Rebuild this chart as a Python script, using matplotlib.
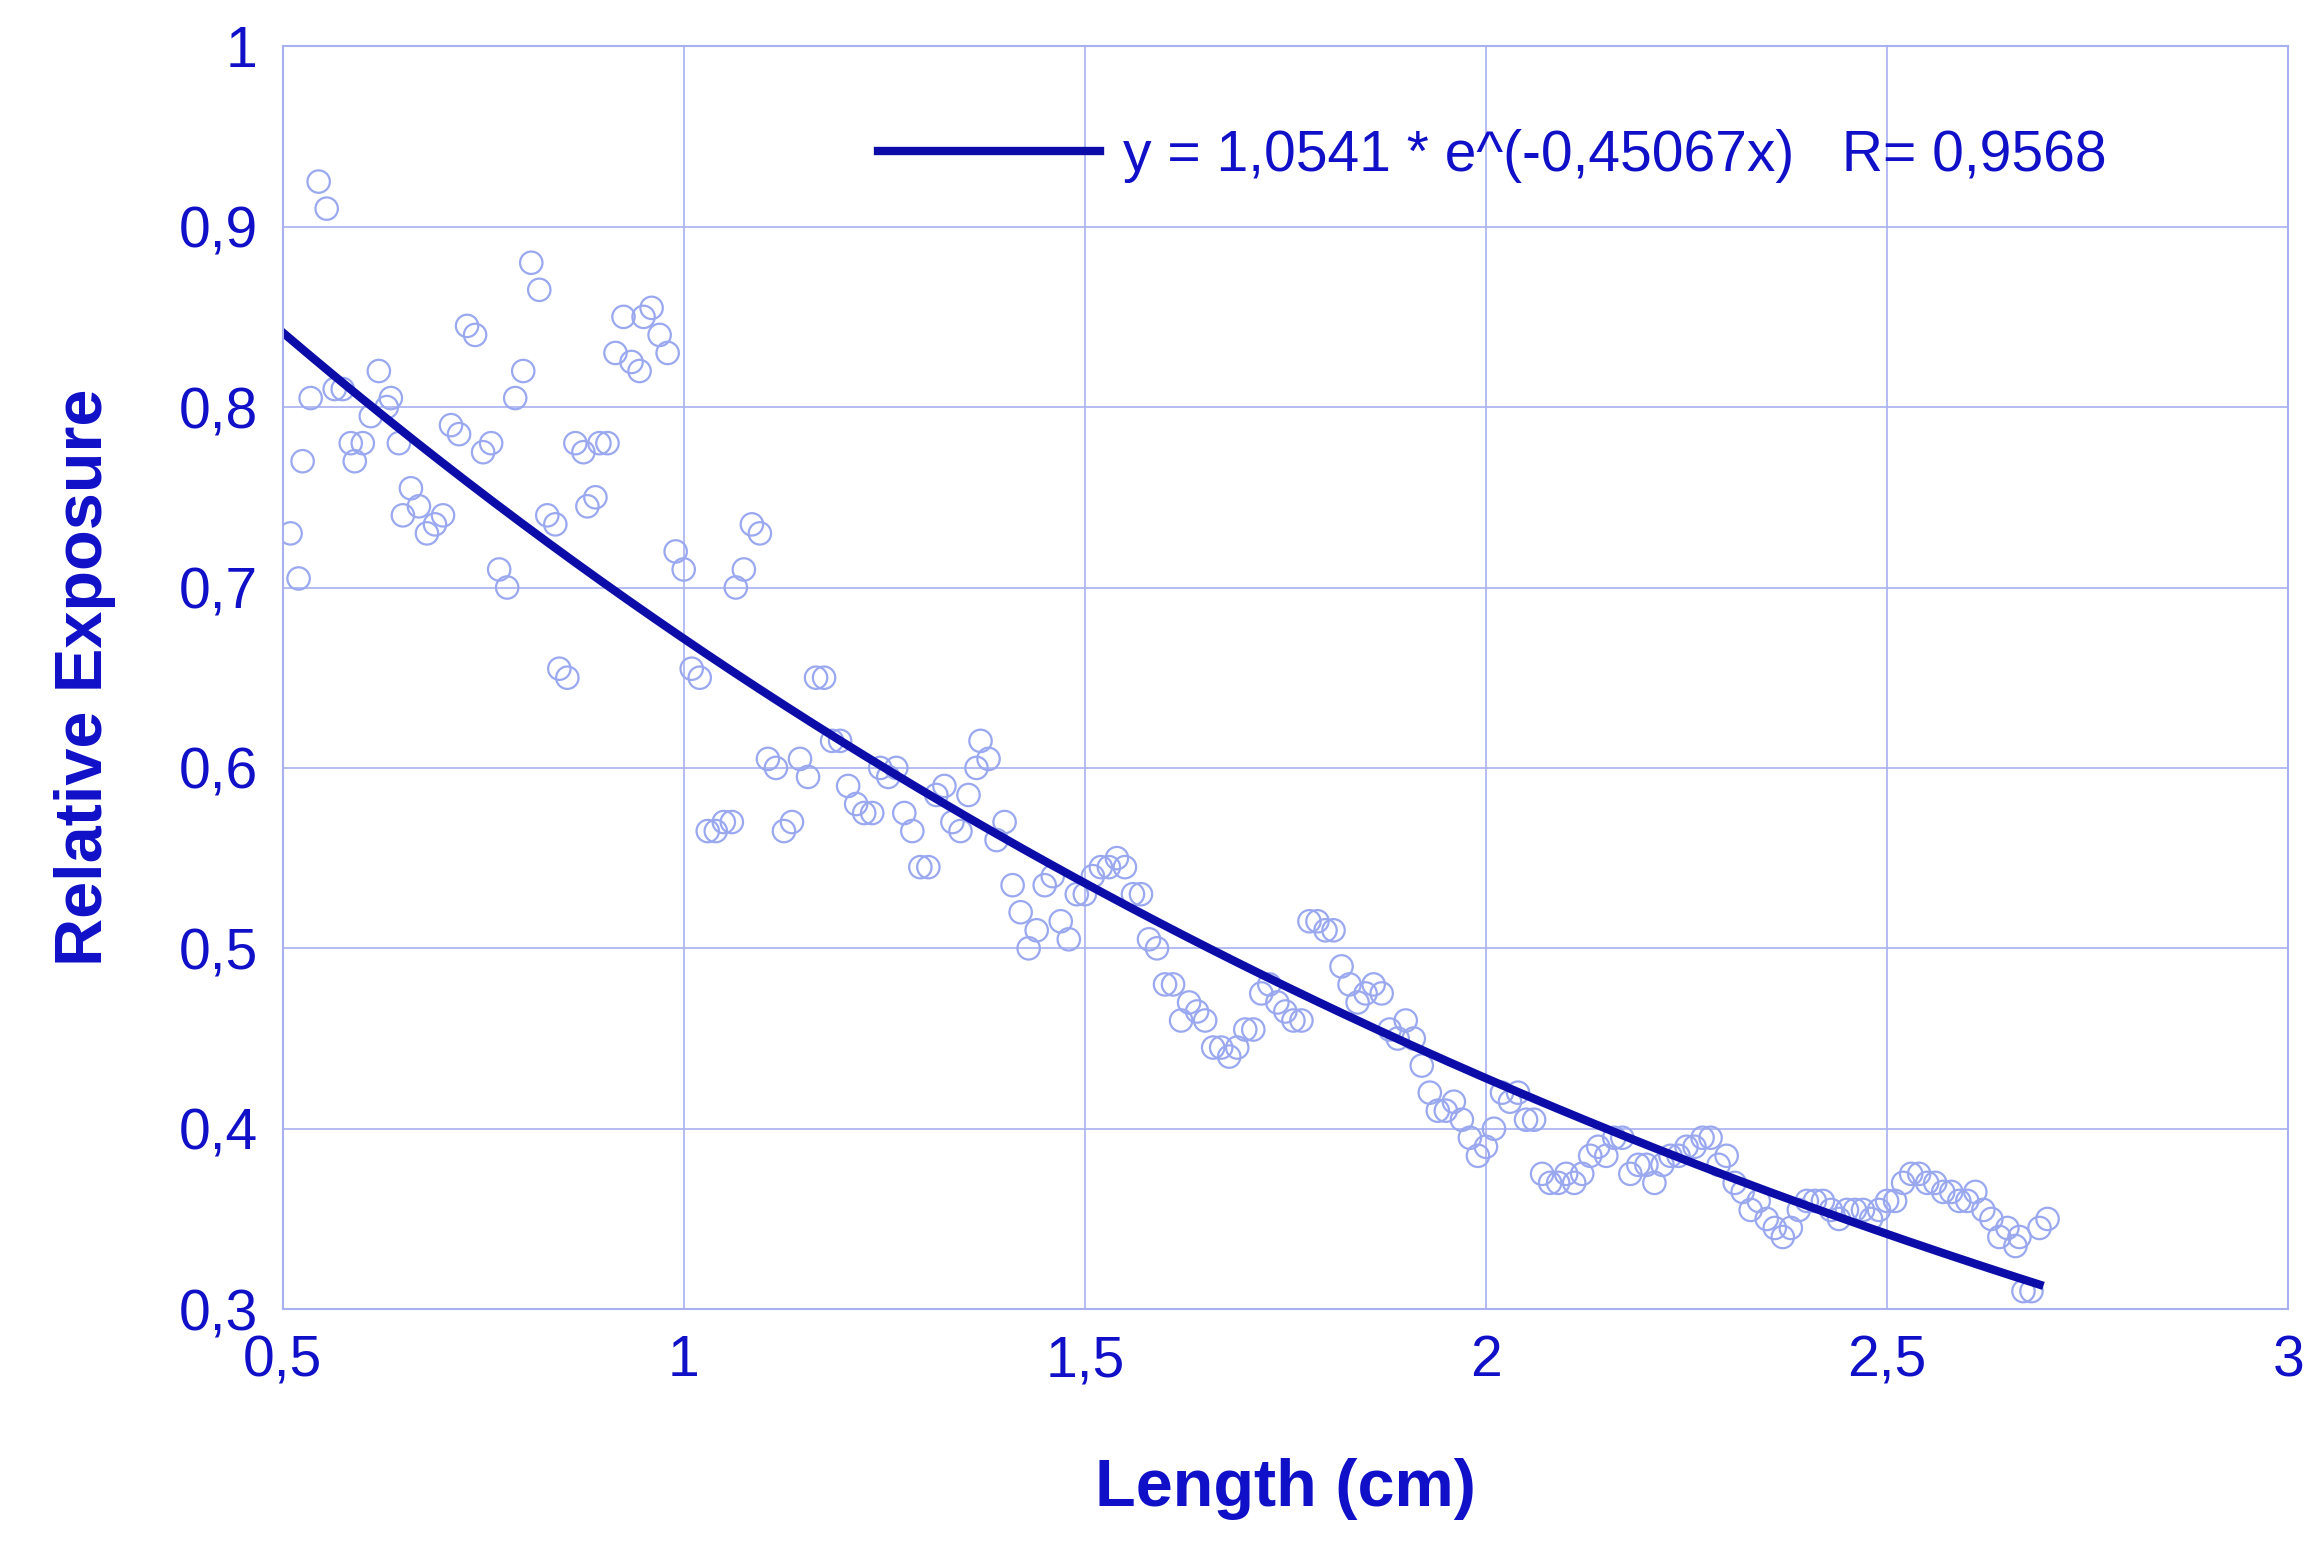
import numpy as np
import matplotlib.pyplot as plt
from matplotlib.ticker import FuncFormatter

length = [0.51,0.52,0.525,0.535,0.545,0.555,0.565,0.575,0.585,0.59,0.60,0.61,0.62,0.63,0.635,0.645,0.65,0.66,0.67,0.68,
          0.69,0.70,0.71,0.72,0.73,0.74,0.75,0.76,0.77,0.78,0.79,0.80,0.81,0.82,0.83,0.84,0.845,0.855,0.865,0.875,
          0.88,0.89,0.895,0.905,0.915,0.925,0.935,0.945,0.95,0.96,0.97,0.98,0.99,1.00,1.01,1.02,1.03,1.04,1.05,1.06,
          1.065,1.075,1.085,1.095,1.105,1.115,1.125,1.135,1.145,1.155,1.165,1.175,1.185,1.195,1.205,1.215,1.225,1.235,1.245,1.255,
          1.265,1.275,1.285,1.295,1.305,1.315,1.325,1.335,1.345,1.355,1.365,1.37,1.38,1.39,1.40,1.41,1.42,1.43,1.44,1.45,
          1.46,1.47,1.48,1.49,1.50,1.51,1.52,1.53,1.54,1.55,1.56,1.57,1.58,1.59,1.60,1.61,1.62,1.63,1.64,1.65,
          1.66,1.67,1.68,1.69,1.70,1.71,1.72,1.73,1.74,1.75,1.76,1.77,1.78,1.79,1.80,1.81,1.82,1.83,1.84,1.85,
          1.86,1.87,1.88,1.89,1.90,1.91,1.92,1.93,1.94,1.95,1.96,1.97,1.98,1.99,2.00,2.01,2.02,2.03,2.04,2.05,
          2.06,2.07,2.08,2.09,2.10,2.11,2.12,2.13,2.14,2.15,2.16,2.17,2.18,2.19,2.20,2.21,2.22,2.23,2.24,2.25,
          2.26,2.27,2.28,2.29,2.30,2.31,2.32,2.33,2.34,2.35,2.36,2.37,2.38,2.39,2.40,2.41,2.42,2.43,2.44,2.45,
          2.46,2.47,2.48,2.49,2.50,2.51,2.52,2.53,2.54,2.55,2.56,2.57,2.58,2.59,2.60,2.61,2.62,2.63,2.64,2.65,
          2.66,2.665,2.67,2.68,2.69,2.70]
exposure = [0.73,0.705,0.77,0.805,0.925,0.91,0.81,0.81,0.78,0.77,0.78,0.795,0.82,0.80,0.805,0.78,0.74,0.755,0.745,0.73,
            0.735,0.74,0.79,0.785,0.845,0.84,0.775,0.78,0.71,0.70,0.805,0.82,0.88,0.865,0.74,0.735,0.655,0.65,0.78,0.775,
            0.745,0.75,0.78,0.78,0.83,0.85,0.825,0.82,0.85,0.855,0.84,0.83,0.72,0.71,0.655,0.65,0.565,0.565,0.57,0.57,
            0.70,0.71,0.735,0.73,0.605,0.60,0.565,0.57,0.605,0.595,0.65,0.65,0.615,0.615,0.59,0.58,0.575,0.575,0.60,0.595,
            0.60,0.575,0.565,0.545,0.545,0.585,0.59,0.57,0.565,0.585,0.60,0.615,0.605,0.56,0.57,0.535,0.52,0.50,0.51,0.535,
            0.54,0.515,0.505,0.53,0.53,0.54,0.545,0.545,0.55,0.545,0.53,0.53,0.505,0.50,0.48,0.48,0.46,0.47,0.465,0.46,
            0.445,0.445,0.44,0.445,0.455,0.455,0.475,0.48,0.47,0.465,0.46,0.46,0.515,0.515,0.51,0.51,0.49,0.48,0.47,0.475,
            0.48,0.475,0.455,0.45,0.46,0.45,0.435,0.42,0.41,0.41,0.415,0.405,0.395,0.385,0.39,0.40,0.42,0.415,0.42,0.405,
            0.405,0.375,0.37,0.37,0.375,0.37,0.375,0.385,0.39,0.385,0.395,0.395,0.375,0.38,0.38,0.37,0.38,0.385,0.385,0.39,
            0.39,0.395,0.395,0.38,0.385,0.37,0.365,0.355,0.36,0.35,0.345,0.34,0.345,0.355,0.36,0.36,0.36,0.355,0.35,0.355,
            0.355,0.355,0.35,0.355,0.36,0.36,0.37,0.375,0.375,0.37,0.37,0.365,0.365,0.36,0.36,0.365,0.355,0.35,0.34,0.345,
            0.335,0.34,0.31,0.31,0.345,0.35]

# fit parameters as printed in the legend
fit_a, fit_b = 1.0541, -0.45067
fit_x = np.linspace(0.5, 2.69, 200)
fit_y = fit_a * np.exp(fit_b * fit_x)

blue = '#1010c8'
plt.rcParams['font.family'] = ['Liberation Sans', 'DejaVu Sans']

fig = plt.figure(figsize=(23.16, 15.42), dpi=100)
ax = fig.add_axes([0.122, 0.151, 0.866, 0.819])
ax.scatter(length, exposure, s=260, facecolors='none', edgecolors='#9aa8f0', linewidths=1.6)
ax.plot(fit_x, fit_y, color='#0c0ca8', lw=6, label='y = 1,0541 * e^(-0,45067x)   R= 0,9568')

ax.set_xlim(0.5, 3)
ax.set_ylim(0.3, 1)
ax.set_xticks([0.5, 1, 1.5, 2, 2.5, 3])
ax.set_yticks([0.3, 0.4, 0.5, 0.6, 0.7, 0.8, 0.9, 1])
fmt = FuncFormatter(lambda v, p: ('%g' % v).replace('.', ','))
ax.xaxis.set_major_formatter(fmt)
ax.yaxis.set_major_formatter(fmt)
ax.tick_params(length=0, labelsize=41, labelcolor=blue, pad=18)
ax.grid(True, color='#a8b0f0', lw=1.2)
ax.set_axisbelow(True)
for s in ax.spines.values():
    s.set_color('#a8b0f0')
    s.set_linewidth(1.5)

ax.set_xlabel('Length (cm)', fontsize=48, fontweight='bold', color=blue, labelpad=50)
ax.set_ylabel('Relative Exposure', fontsize=48, fontweight='bold', color=blue, labelpad=45)

leg = ax.legend(loc='upper right', bbox_to_anchor=(0.935, 0.975), frameon=False,
                fontsize=41, handlelength=3.9, handletextpad=0.4)
for t in leg.get_texts():
    t.set_color(blue)

fig.savefig('out.png', dpi=100)
